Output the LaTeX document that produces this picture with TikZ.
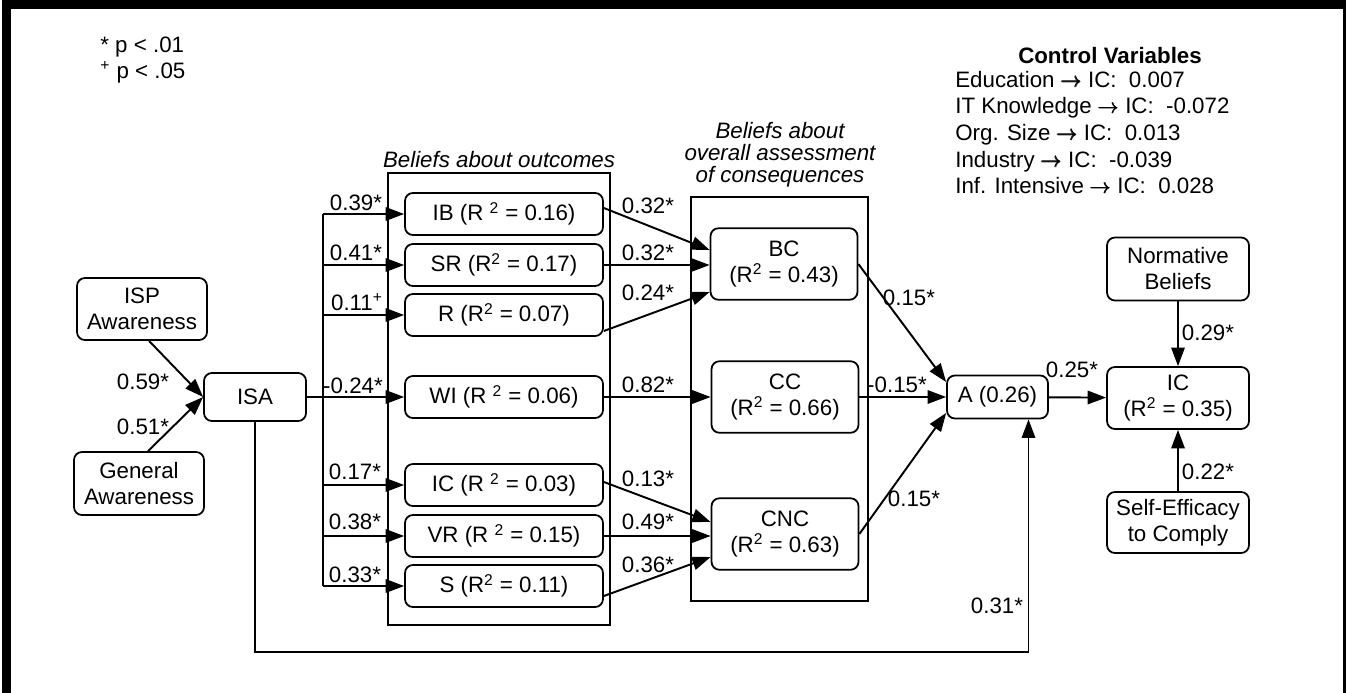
\documentclass[tikz,border=0pt]{standalone}
\usepackage{amsmath}
\usepackage{fontspec}
\setmainfont{Liberation Sans}
\usetikzlibrary{arrows.meta,calc}

\newcommand{\fsz}{\fontsize{12.7}{14.8}\selectfont}
\newcommand{\toarr}{$\pmb{\rightarrow}$}

\begin{document}
\begin{tikzpicture}[x=0.02cm,y=-0.02cm,
    box/.style={draw,rounded corners=4.5pt,line width=1pt,align=center,inner sep=1pt,font=\fsz},
    obox/.style={box,minimum width=3.96cm,minimum height=0.84cm},
    cbox/.style={box,minimum width=2.94cm,minimum height=1.43cm},
    rbox/.style={box,minimum width=2.84cm,minimum height=1.26cm},
    arr/.style={line width=1.1pt,-{Triangle[length=10.5pt,width=7.6pt]}},
    wire/.style={line width=1.1pt},
    grp/.style={draw,line width=1pt},
    lbl/.style={font=\fsz,inner sep=0pt}]
    \useasboundingbox (0,0) rectangle (1346,693);
    % frame
    \fill (2,0) rectangle (11,693);
    \fill (2,0) rectangle (1346,9);
    \fill (1343,0) rectangle (1346,693);

    % legend
    \node[lbl,anchor=base west] (key1) at (100,52) {* p < .01};
    \node[lbl,anchor=base west] (key2) at (100,78) {\textsuperscript{+} p < .05};

    % control variables
    \node[lbl,anchor=base,font=\fsz\bfseries] (cvt) at (1110,63) {Control Variables};
    \foreach \t [count=\i] in {{Education \toarr\ IC:\ \ 0.007},
        {IT Knowledge \toarr\ IC:\ \ -0.072},
        {Org. Size \toarr\ IC:\ \ 0.013},
        {Industry \toarr\ IC:\ \ -0.039},
        {Inf. Intensive \toarr\ IC:\ \ 0.028}}
        \node[lbl,anchor=base west] (cv\i) at (955,{60.3+26.7*\i}) {\t};

    % group frames
    \draw[grp] (388,173) rectangle (610,625);
    \draw[grp] (691,197) rectangle (868,601);
    \node[lbl,font=\fsz\itshape] (outl) at (499,160) {Beliefs about outcomes};
    \node[lbl,align=center,font=\fontsize{12.7}{12.5}\selectfont\itshape] (conl) at (780,155)
        {Beliefs about\\overall assessment\\of consequences};

    % awareness
    \node[box,minimum width=2.6cm,minimum height=1.24cm] (ISP) at (142,309) {ISP\\Awareness};
    \node[box,minimum width=2.6cm,minimum height=1.26cm] (GA) at (139,483.5) {General\\Awareness};
    \node[box,minimum width=2.04cm,minimum height=0.96cm] (ISA) at (255,397) {ISA};

    % outcomes
    \node[obox] (oIB) at (504,214) {IB (R \textsuperscript{2} = 0.16)};
    \node[obox] (oSR) at (504,265) {SR (R\textsuperscript{2} = 0.17)};
    \node[obox] (oR) at (504,315) {R (R\textsuperscript{2} = 0.07)};
    \node[obox] (oWI) at (504,397) {WI (R \textsuperscript{2} = 0.06)};
    \node[obox] (oIC) at (504,485) {IC (R \textsuperscript{2} = 0.03)};
    \node[obox] (oVR) at (504,536) {VR (R \textsuperscript{2} = 0.15)};
    \node[obox] (oS) at (504,586) {S (R\textsuperscript{2} = 0.11)};

    % consequences
    \node[cbox] (BC) at (784,264) {BC\\(R\textsuperscript{2} = 0.43)};
    \node[cbox] (CC) at (785,397) {CC\\(R\textsuperscript{2} = 0.66)};
    \node[cbox] (CNC) at (785,534) {CNC\\(R\textsuperscript{2} = 0.63)};

    \node[box,minimum width=2.02cm,minimum height=0.86cm] (A) at (997.5,397) {A (0.26)};
    \node[rbox] (NB) at (1178,269) {Normative\\Beliefs};
    \node[rbox,minimum height=1.24cm] (IC) at (1178,398) {IC\\(R\textsuperscript{2} = 0.35)};
    \node[rbox,minimum height=1.22cm] (SE) at (1178,522.5) {Self-Efficacy\\to Comply};

    % connectors
    \draw[arr] ($(ISP.south)+(7,0)$) -- (ISA.west);
    \draw[arr] ($(GA.north)+(9,0)$) -- (ISA.west);
    \coordinate (bus) at (323,0);
    \draw[wire] (bus |- oIB) -- (bus |- oS);
    \draw[arr] (ISA) -- (oWI);
    \foreach \n in {oIB,oSR,oR,oIC,oVR,oS}
        \draw[arr] (bus |- \n) -- (\n);

    \draw[arr] ($(oIB.east)+(0,-6)$) -- ($(BC.west)+(0,-14)$);
    \draw[arr] (oSR.east) -- (BC.west |- oSR.east);
    \draw[arr] ($(oR.east)+(0,16)$) -- ($(BC.west)+(0,28)$);
    \draw[arr] (oWI) -- (CC);
    \draw[arr] ($(oIC.east)+(0,-3)$) -- ($(CNC.west)+(0,-12)$);
    \draw[arr] (oVR.east) -- (CNC.west |- oVR.east);
    \draw[arr] ($(oS.east)+(0,10)$) -- ($(CNC.west)+(0,23)$);

    \draw[arr] (BC.east) -- ($(A.west)+(0,-15)$);
    \draw[arr] (CC) -- (A);
    \draw[arr] (CNC.east) -- ($(A.west)+(0,16)$);
    \draw[arr] (A) -- (IC);
    \draw[arr] (NB) -- (IC);
    \draw[arr] (SE) -- (IC);

    \coordinate (low) at (0,652);
    \coordinate (Ain) at ($(A.south)+(31,0)$);
    \draw[arr] (ISA.south) -- (ISA.south |- low) -| (Ain);

    % path coefficients
    \node[lbl] (c59) at (143,382) {0.59*};
    \node[lbl] (c51) at (143,427) {0.51*};
    \node[lbl] (c39) at (356,203) {0.39*};
    \node[lbl] (c41) at (356,253) {0.41*};
    \node[lbl] (c11) at (357,302) {0.11\textsuperscript{+}};
    \node[lbl] (c24) at (353,386) {-0.24*};
    \node[lbl] (c17) at (355,472) {0.17*};
    \node[lbl] (c38) at (355,522) {0.38*};
    \node[lbl] (c33) at (355,575) {0.33*};
    \node[lbl] (c32a) at (648,206) {0.32*};
    \node[lbl] (c32b) at (648,253) {0.32*};
    \node[lbl] (c24b) at (648,293) {0.24*};
    \node[lbl] (c82) at (648,385) {0.82*};
    \node[lbl] (c13) at (648,479) {0.13*};
    \node[lbl] (c49) at (648,522) {0.49*};
    \node[lbl] (c36) at (648,565) {0.36*};
    \node[lbl] (c15a) at (909,298) {0.15*};
    \node[lbl] (c15b) at (897,385) {-0.15*};
    \node[lbl] (c15c) at (914,499) {0.15*};
    \node[lbl] (c25) at (1072,370) {0.25*};
    \node[lbl] (c29) at (1208,333) {0.29*};
    \node[lbl] (c22) at (1208,472) {0.22*};
    \node[lbl] (c31) at (997,606) {0.31*};
\end{tikzpicture}
\end{document}
